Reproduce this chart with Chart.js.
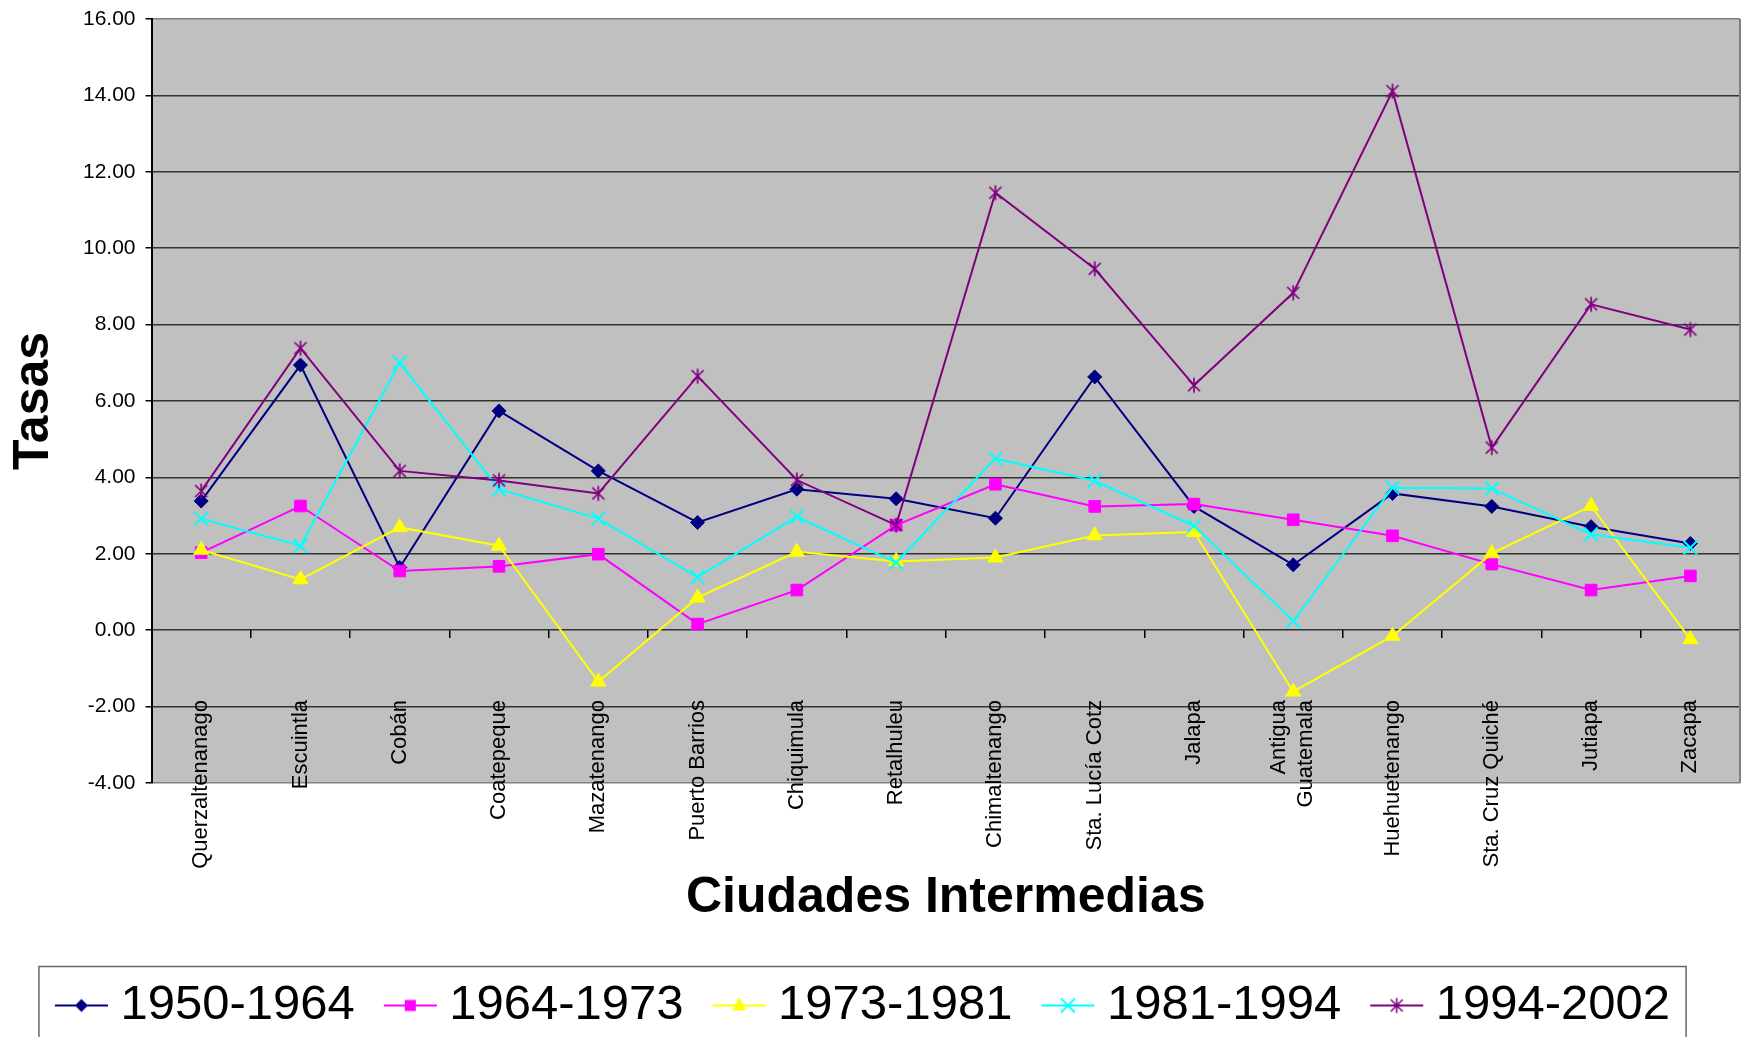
<!DOCTYPE html>
<html>
<head>
<meta charset="utf-8">
<script src="https://cdn.jsdelivr.net/npm/chart.js@4.4.0/dist/chart.umd.min.js"></script>
<style>
  html, body { margin: 0; padding: 0; background: #fff; overflow: hidden; }
  #wrap { width: 1742px; height: 1040px; position: relative; }
</style>
</head>
<body>
<div id="wrap"><canvas id="lineChart"></canvas></div>
<script>
const cities = ["Querzaltenanago", "Escuintla", "Cobán", "Coatepeque", "Mazatenango",
  "Puerto Barrios", "Chiquimula", "Retalhuleu", "Chimaltenango", "Sta. Lucía Cotz",
  "Jalapa", ["Antigua", "Guatemala"], "Huehuetenango", "Sta. Cruz Quiché", "Jutiapa", "Zacapa"];
const periods = ["1950-1964", "1964-1973", "1973-1981", "1981-1994", "1994-2002"];

const rates5064 = [3.38, 6.94, 1.64, 5.74, 4.17, 2.82, 3.69, 3.44, 2.93, 6.63, 3.24, 1.71, 3.58, 3.24, 2.71, 2.27];
const rates6473 = [2.03, 3.25, 1.55, 1.67, 1.99, 0.16, 1.05, 2.75, 3.82, 3.24, 3.30, 2.89, 2.47, 1.73, 1.05, 1.42];
const rates7381 = [2.10, 1.33, 2.69, 2.21, -1.35, 0.85, 2.05, 1.80, 1.90, 2.48, 2.57, -1.61, -0.15, 2.01, 3.25, -0.24];
const rates8194 = [2.92, 2.21, 7.00, 3.69, 2.92, 1.39, 2.97, 1.77, 4.49, 3.91, 2.73, 0.24, 3.73, 3.71, 2.51, 2.16];
const rates9402 = [3.64, 7.38, 4.17, 3.92, 3.58, 6.65, 3.93, 2.75, 11.45, 9.46, 6.41, 8.83, 14.11, 4.78, 8.53, 7.87];

const yMin = -4, yMax = 16, yStep = 2;

const colors = ["#000080", "#FF00FF", "#FFFF00", "#00FFFF", "#800080"];
const shapes = ["diamond", "square", "triangle", "x", "star"];

// one-line names and the two-line name go on separate label axes
const singleNames = cities.map(c => Array.isArray(c) ? "" : c);
const stackedNames = cities.map(c => Array.isArray(c) ? c : "");

const FONT = "'Liberation Sans', Arial, sans-serif";
Chart.defaults.font.family = FONT;
Chart.defaults.color = "#000";

// marker drawing for legend icons and the asterisk point style
function drawMarker(g, shape, cx, cy) {
  g.beginPath();
  if (shape === "diamond") {
    g.moveTo(cx, cy - 6.5); g.lineTo(cx + 6.5, cy); g.lineTo(cx, cy + 6.5); g.lineTo(cx - 6.5, cy);
    g.closePath(); g.fill();
  } else if (shape === "square") {
    g.rect(cx - 5.5, cy - 5.5, 11, 11); g.fill();
  } else if (shape === "triangle") {
    g.moveTo(cx, cy - 8); g.lineTo(cx + 7, cy + 5); g.lineTo(cx - 7, cy + 5);
    g.closePath(); g.fill();
  } else if (shape === "x") {
    g.moveTo(cx - 7, cy - 7); g.lineTo(cx + 7, cy + 7);
    g.moveTo(cx + 7, cy - 7); g.lineTo(cx - 7, cy + 7); g.stroke();
  } else {
    g.moveTo(cx - 6, cy - 6); g.lineTo(cx + 6, cy + 6);
    g.moveTo(cx + 6, cy - 6); g.lineTo(cx - 6, cy + 6);
    g.moveTo(cx, cy - 7.5); g.lineTo(cx, cy + 7.5); g.stroke();
  }
}

function starImage(color) {
  const c = document.createElement("canvas");
  c.width = 18; c.height = 18;
  const g = c.getContext("2d");
  g.strokeStyle = color; g.lineWidth = 1.7;
  drawMarker(g, "star", 9, 9);
  return c;
}

function legendIcon(color, shape) {
  const c = document.createElement("canvas");
  c.width = 60; c.height = 22;
  const g = c.getContext("2d");
  g.strokeStyle = color; g.fillStyle = color; g.lineWidth = 2;
  g.beginPath(); g.moveTo(2, 11); g.lineTo(55, 11); g.stroke();
  g.lineWidth = shape === "x" ? 2 : 1.6;
  drawMarker(g, shape, 28.5, 11);
  return c;
}

const series = [rates5064, rates6473, rates7381, rates8194, rates9402];
const pointStyles = ["rectRot", "rect", "triangle", "crossRot", starImage(colors[4])];
const pointRadii = [7, 8.2, 8.7, 9.5, 8];

const datasets = series.map((vals, i) => ({
  label: periods[i],
  data: vals,
  xAxisID: "x",
  borderColor: colors[i],
  backgroundColor: colors[i],
  borderWidth: 2,
  pointStyle: pointStyles[i],
  pointRadius: pointRadii[i],
  pointBackgroundColor: colors[i],
  pointBorderColor: colors[i],
  pointBorderWidth: i === 3 ? 2 : 1,
  tension: 0,
  fill: false,
  order: 5 - i
}));

const plotFrame = {
  id: "plotFrame",
  beforeDraw(chart) {
    const a = chart.chartArea, ctx = chart.ctx;
    ctx.save();
    ctx.fillStyle = "#C0C0C0";
    ctx.fillRect(a.left, a.top, a.right - a.left, a.bottom - a.top);
    ctx.restore();
  },
  afterDraw(chart) {
    const a = chart.chartArea, ctx = chart.ctx;
    ctx.save();
    ctx.strokeStyle = "#808080";
    ctx.lineWidth = 2;
    ctx.beginPath();
    ctx.moveTo(a.right, a.top); ctx.lineTo(a.right, a.bottom);
    ctx.stroke();
    // legend frame
    const boxes = chart.legend.legendHitBoxes;
    if (boxes && boxes.length) {
      const first = boxes[0], last = boxes[boxes.length - 1];
      const left = first.left - 31, right = last.left + last.width + 16;
      const top = first.top - 14.5;
      ctx.strokeStyle = "#666";
      ctx.lineWidth = 1.5;
      ctx.strokeRect(left, top, right - left, chart.height + 10 - top);
    }
    ctx.restore();
  }
};

const nameAxis = (names, shift) => ({
  axis: "x",
  type: "category",
  labels: names,
  position: { y: yMin },
  offset: true,
  grid: { display: false, drawTicks: false },
  border: { display: false },
  ticks: {
    autoSkip: false,
    minRotation: 90,
    maxRotation: 90,
    padding: -83,
    labelOffset: shift,
    font: { size: 22 },
    color: "#000"
  }
});

let linectx = document.getElementById("lineChart").getContext("2d");
let lineChart = new Chart(linectx, {
  type: "line",
  data: { labels: cities, datasets: datasets },
  options: {
    responsive: true,
    maintainAspectRatio: false,
    animation: false,
    events: [],
    layout: { autoPadding: false, padding: { top: 17.5, right: 2, left: 0, bottom: 0 } },
    scales: {
      x: {
        type: "category",
        offset: true,
        grid: { display: false, drawTicks: false },
        border: { display: false },
        ticks: { display: false },
        title: {
          display: true,
          text: "Ciudades Intermedias",
          font: { size: 50, weight: "bold" },
          color: "#000",
          padding: { top: 85, bottom: 9 }
        }
      },
      // tick marks on the zero line
      x0: {
        axis: "x",
        type: "category",
        position: { y: 0 },
        offset: true,
        grid: { display: true, drawOnChartArea: false, offset: true, tickLength: 8, color: "#000", lineWidth: 1.5 },
        border: { display: false },
        ticks: { display: false }
      },
      // city names, pinned to the bottom of the plot and pulled up into it
      x1: nameAxis(singleNames, 0),
      x2: nameAxis(stackedNames, -14),
      y: {
        min: yMin,
        max: yMax,
        ticks: {
          stepSize: yStep,
          padding: 10,
          font: { size: 21, lineHeight: 0.85 },
          color: "#000",
          callback: (v) => v.toFixed(2)
        },
        grid: {
          color: (c) => (c.tick && (c.tick.value === yMax || c.tick.value === yMin)) ? "#808080" : "#333",
          lineWidth: 1.5,
          tickLength: 6,
          tickColor: "#000"
        },
        border: { display: true, color: "#000", width: 2 },
        title: {
          display: true,
          text: "Tasas",
          font: { size: 50, weight: "bold" },
          color: "#000",
          padding: { top: 4, bottom: 9 }
        }
      }
    },
    plugins: {
      tooltip: { enabled: false },
      legend: {
        position: "bottom",
        labels: {
          usePointStyle: true,
          pointStyleWidth: 26,
          padding: 44,
          font: { size: 49 },
          color: "#000",
          generateLabels: (chart) => periods.map((p, i) => ({
            text: p,
            fillStyle: colors[i],
            strokeStyle: colors[i],
            lineWidth: 0,
            pointStyle: legendIcon(colors[i], shapes[i]),
            hidden: false,
            datasetIndex: i,
            fontColor: "#000"
          }))
        }
      }
    }
  },
  plugins: [plotFrame]
});
</script>
</body>
</html>
